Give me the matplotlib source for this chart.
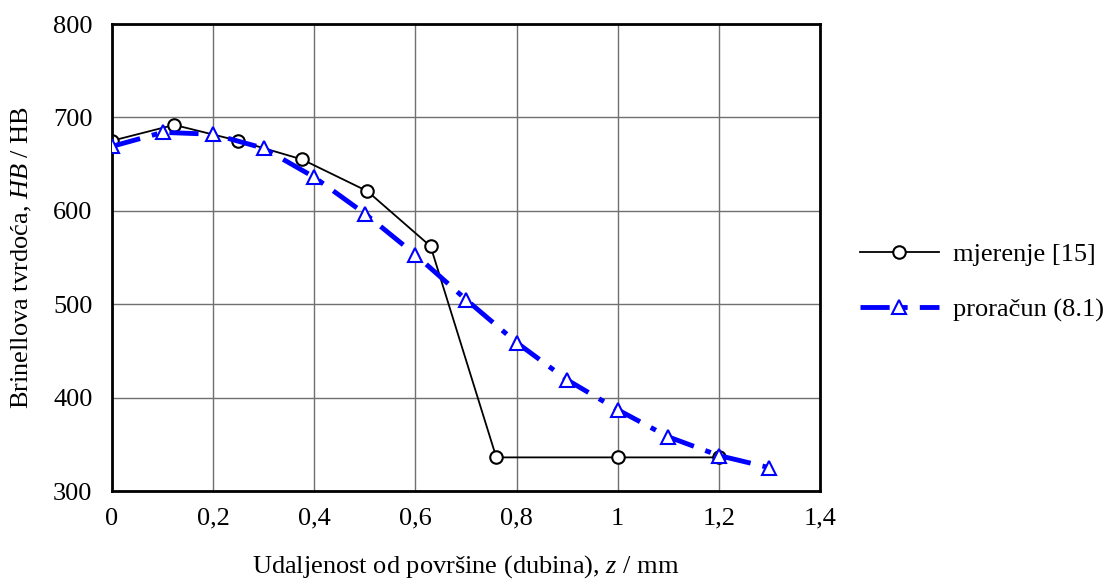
import matplotlib
matplotlib.use("Agg")
import matplotlib.pyplot as plt
from matplotlib.ticker import FuncFormatter

plt.rcParams['font.family'] = ['Liberation Serif', 'DejaVu Serif']
plt.rcParams['mathtext.fontset'] = 'custom'
plt.rcParams['mathtext.rm'] = 'Liberation Serif'
plt.rcParams['mathtext.it'] = 'Liberation Serif:italic'

z_meas = [0.0, 0.123, 0.25, 0.376, 0.505, 0.63, 0.76, 1.0, 1.2]
hb_meas = [675, 692, 675, 655, 621, 562, 336, 336, 336]

z_calc = [0.0, 0.1, 0.2, 0.3, 0.4, 0.5, 0.6, 0.7, 0.8, 0.9, 1.0, 1.1, 1.2, 1.3]
hb_calc = [669, 684, 682, 667, 636, 597, 553, 505, 459, 419, 387, 358, 338, 325]

xticks = [0, 0.2, 0.4, 0.6, 0.8, 1.0, 1.2, 1.4]
yticks = [300, 400, 500, 600, 700, 800]

FS = 19

fig = plt.figure(figsize=(11.1, 5.86), dpi=100)
ax = fig.add_axes([0.1009, 0.1621, 0.6378, 0.7969])

ax.plot(z_calc, hb_calc, color='#0000ff', lw=3.5, dashes=(6, 2.5, 1.2, 2.5),
        marker='^', ms=10, mfc='white', mec='#0000ff', mew=1.5,
        label='proračun (8.1)', zorder=3)
ax.plot(z_meas, hb_meas, color='black', lw=1.3, marker='o', ms=9,
        mfc='white', mec='black', mew=1.5, label='mjerenje [15]', zorder=2)

ax.set_xlim(0, 1.4)
ax.set_ylim(300, 800)
ax.set_xticks(xticks)
ax.set_yticks(yticks)

def fmt(v, pos):
    s = ('%g' % v)
    return s.replace('.', ',')
ax.xaxis.set_major_formatter(FuncFormatter(fmt))
ax.tick_params(axis='y', length=0, labelsize=FS, pad=14)
ax.tick_params(axis='x', length=0, labelsize=FS, pad=12)
ax.grid(True, color='#707070', lw=1)
ax.set_axisbelow(True)
for sp in ax.spines.values():
    sp.set_linewidth(2)
    sp.set_color('black')

ax.set_xlabel('Udaljenost od površine (dubina), $z$ / mm', fontsize=FS, labelpad=17)
ax.set_ylabel('Brinellova tvrdoća, $HB$ / HB', fontsize=FS, labelpad=14)

handles, labels = ax.get_legend_handles_labels()
leg = fig.legend(handles[::-1], labels[::-1], loc='center left',
                 bbox_to_anchor=(0.753, 0.518), frameon=False, fontsize=FS,
                 handlelength=3.0, labelspacing=1.2, handletextpad=0.55)

fig.savefig('out.png', dpi=100)
